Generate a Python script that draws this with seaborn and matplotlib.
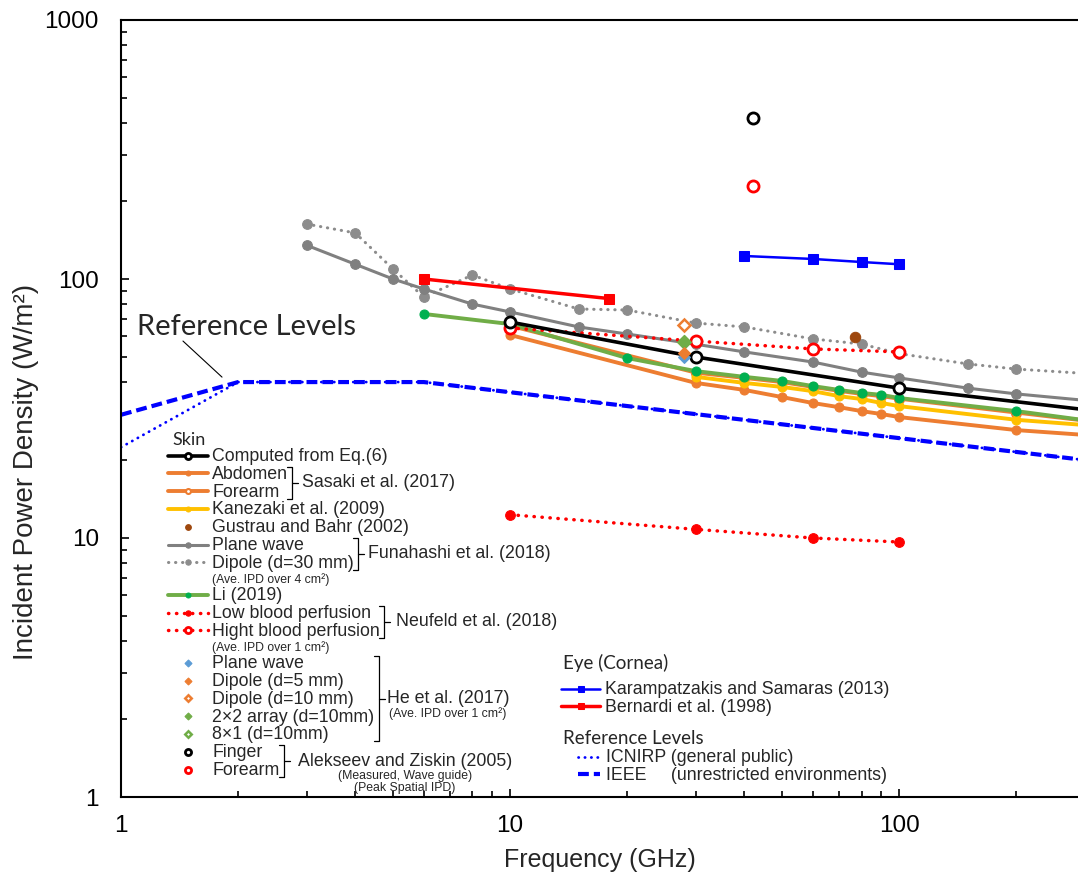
import numpy as np
import seaborn as sns
import matplotlib.pyplot as plt
from matplotlib.lines import Line2D
from matplotlib.ticker import NullFormatter

# ---- data: frequency (GHz) vs incident power density (W/m2) ----
comp_f = [10, 30, 100, 300]
comp_ipd = [68.2, 50.0, 37.9, 31.3]

sasaki_f = [10, 30, 40, 50, 60, 70, 80, 90, 100, 200, 300]
abdomen_ipd = [60.8, 39.7, 37.3, 35.0, 33.2, 32.0, 30.9, 30.1, 29.3, 26.1, 25.0]
forearm_ipd = [66.0, 43.5, 41.5, 40.0, 38.3, 37.0, 36.0, 35.3, 34.5, 30.5, 28.4]

kanezaki_f = [30, 40, 50, 60, 70, 80, 90, 100, 200, 300]
kanezaki_ipd = [41.9, 39.7, 38.3, 36.9, 35.3, 34.4, 33.2, 32.3, 28.6, 27.3]

gustrau_f = [77]
gustrau_ipd = [59.7]

funa_f = [3, 4, 5, 6, 8, 10, 15, 20, 30, 40, 60, 80, 100, 150, 200, 300]
funa_plane_ipd = [135, 114, 100, 91.5, 80, 74.6, 65.3, 61.3, 56, 52.3, 47.8, 43.7, 41.5, 37.9, 36.0, 34.0]
funa_dipole_ipd = [163, 150.6, 109.3, 85.2, 103.6, 91.5, 76.6, 75.9, 67.6, 65.3, 58.7, 56.1, 51.5, 47.0, 44.9, 43.2]

li_f = [6, 10, 20, 30, 40, 50, 60, 70, 80, 90, 100, 200, 300]
li_ipd = [73.3, 67.0, 49.5, 44.1, 41.9, 40.4, 38.6, 37.3, 36.3, 35.7, 34.7, 30.9, 28.5]

neuf_f = [10, 30, 60, 100]
neuf_low_ipd = [12.3, 10.8, 10.0, 9.65]
neuf_high_ipd = [64.7, 57.6, 53.7, 52.3]

he_f = [28]
he_plane_ipd = [50.0]
he_d5_ipd = [51.8]
he_d10_ipd = [66.4]
he_2x2_ipd = [57.6]
he_8x1_ipd = [57.0]

alek_f = [42]
alek_finger_ipd = [418]
alek_forearm_ipd = [229]

karam_f = [40, 60, 80, 100]
karam_ipd = [122.7, 119.5, 116.3, 114.0]

bern_f = [6, 18]
bern_ipd = [100, 84]

ref_f = [1, 2, 6, 300]
icnirp_ipd = [22.4, 40, 40, 20]
ieee_ipd = [29.9, 40, 40, 20]

x_ticks = [1, 10, 100]
x_tick_labels = ['1', '10', '100']
y_ticks = [1, 10, 100, 1000]
y_tick_labels = ['1', '10', '100', '1000']

skin_labels = ['Computed from Eq.(6)', 'Abdomen', 'Forearm', 'Kanezaki et al. (2009)',
               'Gustrau and Bahr (2002)', 'Plane wave', 'Dipole (d=30 mm)',
               '(Ave. IPD over 4 cm²)', 'Li (2019)', 'Low blood perfusion',
               'Hight blood perfusion', '(Ave. IPD over 1 cm²)', 'Plane wave',
               'Dipole (d=5 mm)', 'Dipole (d=10 mm)', '2×2 array (d=10mm)',
               '8×1 (d=10mm)', 'Finger', 'Forearm']
eye_labels = ['Karampatzakis and Samaras (2013)', 'Bernardi et al. (1998)']
ref_labels = ['ICNIRP (general public)', 'IEEE     (unrestricted environments)']

ORANGE = '#ED7D31'
YELLOW = '#FFC000'
GRAY = '#808080'
GREEN_LINE = '#70AD47'
GREEN_DOT = '#00B050'
BROWN = '#9E480E'
LBLUE = '#5B9BD5'
RED = '#FF0000'
BLUE = '#0000FF'

sns.set_style('ticks')
plt.rcParams['font.family'] = ['Liberation Sans', 'DejaVu Sans']

W, H = 1078, 877
fig = plt.figure(figsize=(W / 100, H / 100), dpi=100)
ax = fig.add_axes([121 / W, 80 / H, 957 / W, 777 / H])
ax.set_xscale('log')
ax.set_yscale('log')


def line(f, v, **kw):
    sns.lineplot(x=f, y=v, ax=ax, errorbar=None, sort=False, legend=False, **kw)
    return ax.lines[-1]


dot = (0, (0.1, 2.2))

# reference levels
h_icn = line(ref_f, icnirp_ipd, color=BLUE, linewidth=2.0, linestyle=dot,
             dash_capstyle='round')
h_ieee = line(ref_f, ieee_ipd, color=BLUE, linewidth=3.0, linestyle=(0, (2.6, 1.2)))

# skin
h_dip = line(funa_f, funa_dipole_ipd, color='#8c8c8c', linewidth=2.2, linestyle=dot,
             dash_capstyle='round', marker='o', markersize=7, mec='#8c8c8c')
h_pw = line(funa_f, funa_plane_ipd, color=GRAY, linewidth=2.2, marker='o',
            markersize=7, mec=GRAY)
h_abd = line(sasaki_f, abdomen_ipd, color=ORANGE, linewidth=2.8, marker='o',
             markersize=6.5, mec=ORANGE)
h_fore = line(sasaki_f, forearm_ipd, color=ORANGE, linewidth=2.8, marker='o',
              markersize=6.5, markerfacecolor='white', mec=ORANGE, mew=1.5)
h_kan = line(kanezaki_f, kanezaki_ipd, color=YELLOW, linewidth=2.8, marker='o',
             markersize=6.5, mec=YELLOW)
h_li = line(li_f, li_ipd, color=GREEN_LINE, linewidth=2.8, marker='o',
            markersize=6.5, markerfacecolor=GREEN_DOT, mec=GREEN_DOT)
h_low = line(neuf_f, neuf_low_ipd, color=RED, linewidth=2.5, linestyle=dot,
             dash_capstyle='round', marker='o', markersize=7, mec=RED)
h_high = line(neuf_f, neuf_high_ipd, color=RED, linewidth=2.5, linestyle=dot,
              dash_capstyle='round', marker='o', markersize=8,
              markerfacecolor='white', mec=RED, mew=2)
h_comp = line(comp_f, comp_ipd, color='black', linewidth=2.6, marker='o',
              markersize=8, markerfacecolor='white', mec='black', mew=2,
              markevery=[0, 1, 2])

h_he_81 = line(he_f, he_8x1_ipd, linestyle='none', marker='D', markersize=6,
               markerfacecolor='white', mec=GREEN_LINE, mew=1.8)
h_he_22 = line(he_f, he_2x2_ipd, linestyle='none', marker='D', markersize=6.5,
               color=GREEN_LINE, mec=GREEN_LINE)
h_he_d10 = line(he_f, he_d10_ipd, linestyle='none', marker='D', markersize=6,
                markerfacecolor='white', mec=ORANGE, mew=1.8)
h_he_pw = line(he_f, he_plane_ipd, linestyle='none', marker='D', markersize=6.5,
               color=LBLUE, mec=LBLUE)
h_he_d5 = line(he_f, he_d5_ipd, linestyle='none', marker='D', markersize=6.5,
               color=ORANGE, mec=ORANGE)
h_gus = line(gustrau_f, gustrau_ipd, linestyle='none', marker='o', markersize=7.5,
             color=BROWN, mec=BROWN)
h_fin = line(alek_f, alek_finger_ipd, linestyle='none', marker='o', markersize=8,
             markerfacecolor='white', mec='black', mew=2)
h_farm = line(alek_f, alek_forearm_ipd, linestyle='none', marker='o', markersize=8,
              markerfacecolor='white', mec=RED, mew=2)

# eye
h_ber = line(bern_f, bern_ipd, color=RED, linewidth=2.5, marker='s', markersize=7,
             mec=RED)
h_kar = line(karam_f, karam_ipd, color=BLUE, linewidth=1.8, marker='s',
             markersize=7, mec=BLUE)

# axes
ax.set_xlim(1, 288)
ax.set_ylim(1, 1000)
ax.set_xticks(x_ticks, labels=x_tick_labels)
ax.set_yticks(y_ticks, labels=y_tick_labels)
ax.xaxis.set_minor_formatter(NullFormatter())
ax.yaxis.set_minor_formatter(NullFormatter())
ax.tick_params(which='both', direction='in', top=False, right=False,
               color='black', width=1.2, labelsize=17.5, labelcolor='black')
ax.tick_params(which='major', length=6)
ax.tick_params(which='minor', length=4.5)
ax.tick_params(axis='y', pad=16)
ax.tick_params(axis='x', pad=13)
for side in ['left', 'bottom', 'top']:
    ax.spines[side].set_color('black')
    ax.spines[side].set_linewidth(1.5)
ax.spines['right'].set_visible(False)

ax.set_xlabel('Frequency (GHz)', fontsize=18)
ax.set_ylabel('Incident Power Density (W/m²)', fontsize=20)
ax.xaxis.set_label_coords(0.5, -0.066)
ax.yaxis.set_label_coords(-0.086, 0.418)

ax.text(1.099, 65.3, 'Reference Levels', family='Lato', fontsize=21,
        ha='left', va='center')
ax.annotate('', xy=(1.818, 41.8), xytext=(1.443, 57.6),
            arrowprops=dict(arrowstyle='-', lw=0.8, color='black',
                            shrinkA=0, shrinkB=0))

# legends
blank = Line2D([], [], color='none')
skin_handles = [h_comp, h_abd, h_fore, h_kan, h_gus, h_pw, h_dip, blank, h_li,
                h_low, h_high, blank, h_he_pw, h_he_d5, h_he_d10, h_he_22,
                h_he_81, h_fin, h_farm]
leg_kw = dict(loc='upper left', bbox_transform=fig.transFigure, frameon=False,
              prop={'family': 'Liberation Sans', 'size': 12.8}, borderpad=0,
              borderaxespad=0, markerscale=0.55, labelspacing=0.045,
              handleheight=0.4)
leg1 = ax.legend(skin_handles, skin_labels, bbox_to_anchor=(168 / W, 1 - 448 / H),
                 handlelength=2.25, handletextpad=0.25, **leg_kw)
for i in (7, 11):
    leg1.get_texts()[i].set_fontsize(8.8)
leg1.legend_handles[0].set_markevery([1])
ax.add_artist(leg1)
leg2 = ax.legend([h_kar, h_ber], eye_labels, bbox_to_anchor=(561 / W, 1 - 681 / H),
                 handlelength=2.2, handletextpad=0.25, **leg_kw)
ax.add_artist(leg2)
leg3 = ax.legend([h_icn, h_ieee], ref_labels, bbox_to_anchor=(578 / W, 1 - 749 / H),
                 handlelength=1.25, handletextpad=0.3, **leg_kw)

fig.text(172 / W, 1 - 440 / H, 'Skin', family='Lato', fontsize=13, va='center')
fig.text(563 / W, 1 - 663 / H, 'Eye (Cornea)', family='Lato', fontsize=13.5,
         va='center')
fig.text(563 / W, 1 - 739 / H, 'Reference Levels', family='Lato', fontsize=13.5,
         va='center')

# brackets with group names
fig.canvas.draw()
rend = fig.canvas.get_renderer()
skin_texts = leg1.get_texts()


def bracket(rows, name, notes=(), dx=10, note_dy=15):
    bbs = [skin_texts[i].get_window_extent(rend) for i in rows]
    bx = max(b.x1 for b in bbs) + 4
    top = bbs[0].y1 - 1
    bot = bbs[-1].y0 + 2
    mid = (top + bot) / 2
    fig.add_artist(Line2D(np.array([bx - 5, bx, bx, bx - 5]) / W,
                          np.array([top, top, bot, bot]) / H,
                          transform=fig.transFigure, color='black', lw=0.9))
    fig.add_artist(Line2D([bx / W, (bx + 6) / W], [mid / H, mid / H],
                          transform=fig.transFigure, color='black', lw=0.9))
    t = fig.text((bx + dx) / W, mid / H, name, fontsize=12.8, ha='left', va='center')
    tb = t.get_window_extent(rend)
    cx = (tb.x0 + tb.x1) / 2
    for k, note in enumerate(notes):
        fig.text(cx / W, (mid - note_dy - 12 * k) / H, note, fontsize=8.8,
                 ha='center', va='center')


bracket([1, 2], 'Sasaki et al. (2017)')
bracket([5, 6], 'Funahashi et al. (2018)')
bracket([9, 10], 'Neufeld et al. (2018)', dx=12)
bracket([12, 13, 14, 15, 16], 'He et al. (2017)', ['(Ave. IPD over 1 cm²)'], dx=8)
bracket([17, 18], 'Alekseev and Ziskin (2005)',
        ['(Measured, Wave guide)', '(Peak Spatial IPD)'], dx=14, note_dy=15)

fig.savefig('out.png', dpi=100)
